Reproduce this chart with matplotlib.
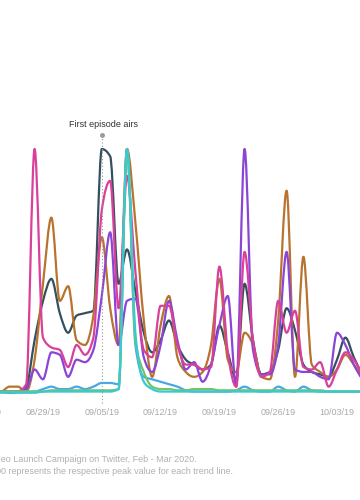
import numpy as np
import pandas as pd
import matplotlib
matplotlib.use('Agg')
import matplotlib.pyplot as plt
import matplotlib.dates as mdates
from matplotlib.path import Path
from matplotlib.patches import PathPatch

plt.rcParams['font.family'] = ['Liberation Sans', 'DejaVu Sans']

# daily values, 08/23/19 .. 10/06/19 (100 = peak of each line)
dates = pd.date_range('2019-08-23', '2019-10-06', freq='D')

teal = [1, 1, 0.5, 1, 3, 22, 38, 47, 33, 25, 32, 33, 34, 100, 97,
        45, 59, 42, 25, 17, 22, 30, 20, 14, 12, 10, 12, 28, 17, 6,
        45, 22, 8, 9, 18, 35, 26, 12, 9, 8, 7, 14, 23, 15, 8]
brown = [1, 1, 3, 3, 1, 14, 45, 72, 38, 44, 22, 20, 32, 64, 35,
         20, 100, 70, 30, 7, 28, 40, 15, 9, 7, 9, 20, 47, 14, 9,
         25, 20, 7, 6, 30, 83, 7, 56, 12, 9, 7, 10, 16, 12, 7]
pink = [1, 1, 1, 1, 4, 100, 23, 19, 18, 11, 20, 16, 23, 75, 87,
        35, 89, 50, 18, 15, 36, 36, 20, 12, 12, 10, 11, 52, 17, 3,
        58, 22, 7, 9, 38, 25, 34, 11, 10, 13, 3, 10, 17, 14, 8]
purple = [1, 1, 1, 1, 2, 10, 6, 17, 16, 7, 14, 13, 18, 40, 66,
          20, 38, 39, 15, 9, 20, 38, 22, 10, 13, 5, 12, 28, 40, 3,
          100, 18, 8, 8, 20, 58, 10, 9, 9, 7, 6, 25, 20, 12, 6]
lightblue = [1, 1, 1, 1, 1, 1, 2, 3, 2, 2, 3, 2, 3, 4.5, 4.5,
             4, 100, 20, 7, 6, 5, 4, 3, 1.5, 1, 1, 1, 1, 1, 1.5,
             3, 1.5, 1, 1, 3, 1.5, 1, 3, 1.5, 1, 1, 1, 1, 1, 1]
green = [1, 1, 1, 1, 1, 1, 1, 1.5, 1.5, 1.5, 1.5, 1.5, 1.5, 1.5, 1.5,
         2, 100, 22, 9, 3, 2, 2, 1.5, 1.5, 2, 2, 2, 1.5, 1.5, 1.5,
         1.5, 1.5, 1.5, 1.5, 1.5, 1.5, 1.5, 1.5, 1.5, 1.5, 1, 1, 1, 1, 1]
cyan = [0.5, 0.5, 0.5, 0.5, 0.5, 0.5, 1, 1, 1, 1, 1, 1, 1, 1, 1,
        2, 100, 25, 5, 2, 1, 1, 1, 1, 1, 1, 1, 1, 1, 1,
        1, 1, 1, 1, 1, 1, 1, 1, 1, 1, 1, 1, 1, 1, 1]

series = [(teal, '#34505e'), (brown, '#b8732f'), (purple, '#8b45d6'),
          (pink, '#d9409a'), (lightblue, '#4aa6e8'), (green, '#72c46a'),
          (cyan, '#3cc8cf')]

ticks = pd.date_range('2019-08-22', '2019-10-10', freq='7D')
event_date = pd.Timestamp('2019-09-05')


def monotone_path(x, y):
    # monotone cubic (like d3 curveMonotoneX) as bezier segments
    x = np.asarray(x, float)
    y = np.asarray(y, float)
    n = len(x)
    h = np.diff(x)
    s = np.diff(y) / h
    t = np.zeros(n)
    for i in range(1, n - 1):
        p = (s[i - 1] * h[i] + s[i] * h[i - 1]) / (h[i - 1] + h[i])
        t[i] = (np.sign(s[i - 1]) + np.sign(s[i])) * min(abs(s[i - 1]), abs(s[i]), 0.5 * abs(p))
    t[0] = (3 * s[0] - t[1]) / 2
    t[-1] = (3 * s[-1] - t[-2]) / 2
    verts = [(x[0], y[0])]
    codes = [Path.MOVETO]
    for i in range(n - 1):
        dx = h[i] / 3
        verts += [(x[i] + dx, y[i] + dx * t[i]),
                  (x[i + 1] - dx, y[i + 1] - dx * t[i + 1]),
                  (x[i + 1], y[i + 1])]
        codes += [Path.CURVE4] * 3
    return Path(verts, codes)


fig = plt.figure(figsize=(3.6, 5.0), dpi=100)
ax = fig.add_axes([-50 / 360, 0.2, 460 / 360, 0.6])

xd = mdates.date2num(dates)
for vals, col in series:
    ax.add_patch(PathPatch(monotone_path(xd, vals), facecolor='none',
                           edgecolor=col, lw=1.6, capstyle='round', joinstyle='round'))

base = mdates.date2num(pd.Timestamp('2019-08-29'))
ax.set_xlim(base - 11.07, base + 43.69)
ax.set_ylim(-2.45, 120)

ex = mdates.date2num(event_date)
ax.plot([ex, ex], [-3.7, 105.7], ls=(0, (1, 2)), color='#999999', lw=0.8, clip_on=False)
ax.plot([ex], [105.7], 'o', ms=2.5, color='#999999', clip_on=False)
ax.text(ex + 0.25, 110.2, 'First episode airs', ha='center', va='center',
        fontsize=6.5, color='#333333')

ax.set_xticks(mdates.date2num(ticks))
ax.xaxis.set_major_formatter(mdates.DateFormatter('%m/%d/%y'))
ax.tick_params(axis='x', length=0, pad=6, labelsize=6.5, labelcolor='#aaaaaa')
ax.set_yticks([])
for sp in ax.spines.values():
    sp.set_visible(False)

fig.text(197 / 360, 1 - 460 / 500, 'Source: Video Launch Campaign on Twitter, Feb - Mar 2020.',
         ha='right', va='center', fontsize=6.5, color='#b0b0b0')
fig.text(233 / 360, 1 - 471 / 500, 'Note: 100 represents the respective peak value for each trend line.',
         ha='right', va='center', fontsize=6.5, color='#b0b0b0')

fig.savefig('out.png', dpi=100)
